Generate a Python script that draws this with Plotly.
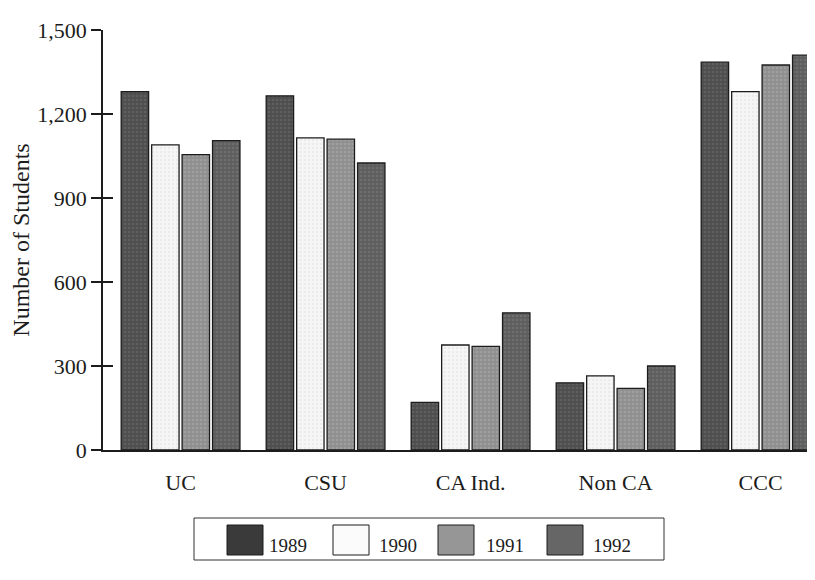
import plotly.graph_objects as go

# ---------------- data ----------------
categories = ["UC", "CSU", "CA Ind.", "Non CA", "CCC"]
years = ["1989", "1990", "1991", "1992"]
students_1989 = [1280, 1265, 170, 240, 1385]
students_1990 = [1090, 1115, 375, 265, 1280]
students_1991 = [1055, 1110, 370, 220, 1375]
students_1992 = [1105, 1025, 490, 300, 1410]
y_ticks = [0, 300, 600, 900, 1200, 1500]
y_title = "Number of Students"

series = [students_1989, students_1990, students_1991, students_1992]
bar_colors = ["#4e4e4e", "#f6f6f6", "#8f8f8f", "#5e5e5e"]
speckle_colors = ["#6f6f6f", "#e0e0e0", "#b0b0b0", "#7e7e7e"]
swatch_colors = ["#3a3a3a", "#fbfbfb", "#969696", "#666666"]

# ---------------- layout geometry (pixels) ----------------
W, H = 815, 580
ML, MR, MT, MB = 95, 0, 22, 138
PW, PH = W - ML - MR, H - MT - MB
FONT = "Liberation Serif"
INK = "#1c1c1c"


def px_x(px):
    return (px - ML) / PW


def px_y(py):
    return (H - MB - py) / PH


fig = go.Figure()
for name, vals, col, spk in zip(years, series, bar_colors, speckle_colors):
    fig.add_bar(
        name=name,
        x=categories,
        y=vals,
        marker=dict(
            color=col,
            line=dict(color=INK, width=1.3),
            pattern=dict(shape=".", bgcolor=col, fgcolor=spk, size=4, solidity=0.35),
        ),
        hoverinfo="x+y+name",
    )

# empty trace so the overlay axis (inside tick halves) is drawn
fig.add_scatter(x=[], y=[], yaxis="y2", showlegend=False, hoverinfo="skip")

fig.update_layout(
    width=W,
    height=H,
    margin=dict(l=ML, r=MR, t=MT, b=MB, autoexpand=False),
    paper_bgcolor="white",
    plot_bgcolor="white",
    barmode="group",
    bargap=0.16,
    bargroupgap=0.1,
    showlegend=False,
    font=dict(family=FONT, color=INK, size=22),
    xaxis=dict(
        range=[-0.535, -0.535 + PW / 145.0],
        showline=True,
        linecolor=INK,
        linewidth=1.5,
        ticks="",
        ticklabelstandoff=12,
        tickfont=dict(family=FONT, size=22, color=INK),
        showgrid=False,
        zeroline=False,
    ),
    yaxis=dict(
        range=[0, 1500],
        tickvals=y_ticks,
        tickformat=",",
        ticks="outside",
        ticklen=10,
        tickwidth=1.5,
        tickcolor=INK,
        showline=True,
        linecolor=INK,
        linewidth=1.5,
        showgrid=False,
        zeroline=False,
        tickfont=dict(family=FONT, size=22, color=INK),
        title=dict(text=y_title, font=dict(family=FONT, size=24, color=INK), standoff=2),
    ),
    yaxis2=dict(
        overlaying="y",
        side="left",
        range=[0, 1500],
        tickvals=y_ticks,
        ticks="inside",
        ticklen=10,
        tickwidth=1.5,
        tickcolor=INK,
        showticklabels=False,
        showline=False,
        showgrid=False,
        zeroline=False,
    ),
)

# ---------------- legend box styled like the printed key ----------------
shapes = [
    dict(type="rect", xref="paper", yref="paper",
         x0=px_x(186), x1=px_x(656), y0=px_y(552), y1=px_y(510),
         line=dict(color="#333333", width=1), fillcolor="white", layer="above")
]
annotations = []
swatch_cx = [237, 343, 448, 557]
label_cx = [280, 390, 497, 604]
for name, col, sx, lx in zip(years, swatch_colors, swatch_cx, label_cx):
    shapes.append(dict(type="rect", xref="paper", yref="paper",
                       x0=px_x(sx - 18), x1=px_x(sx + 18),
                       y0=px_y(547), y1=px_y(517),
                       line=dict(color=INK, width=1), fillcolor=col, layer="above"))
    annotations.append(dict(xref="paper", yref="paper", x=px_x(lx), y=px_y(537),
                            text=name, showarrow=False, xanchor="center", yanchor="middle",
                            font=dict(family=FONT, size=19, color=INK)))

fig.update_layout(shapes=shapes, annotations=annotations)

fig.write_html("out.html")
